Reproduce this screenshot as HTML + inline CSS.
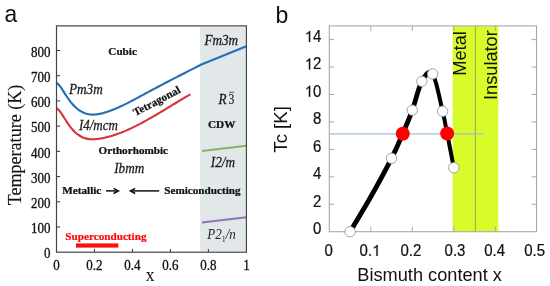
<!DOCTYPE html>
<html><head><meta charset="utf-8"><style>
html,body{margin:0;padding:0;background:#fff;}
body{width:550px;height:286px;overflow:hidden;}
svg{display:block;will-change:transform;}
</style></head><body>
<svg width="550" height="286" viewBox="0 0 550 286">
<rect x="200.2" y="27" width="45.4" height="224.2" fill="#e2e7ea"/>
<path d="M56.50,82.77 C56.84,83.06 57.84,83.78 58.51,84.48 C59.18,85.18 59.85,86.06 60.52,86.97 C61.20,87.88 61.87,88.92 62.54,89.94 C63.21,90.97 63.88,92.08 64.55,93.12 C65.22,94.17 65.89,95.23 66.56,96.23 C67.23,97.23 67.90,98.20 68.58,99.12 C69.25,100.05 69.92,100.94 70.59,101.78 C71.26,102.63 71.93,103.43 72.60,104.19 C73.27,104.95 73.94,105.67 74.61,106.35 C75.28,107.02 75.95,107.64 76.62,108.22 C77.30,108.81 77.97,109.34 78.64,109.83 C79.31,110.32 79.98,110.76 80.65,111.17 C81.32,111.58 81.99,111.94 82.66,112.27 C83.33,112.59 84.00,112.88 84.68,113.13 C85.35,113.38 86.02,113.60 86.69,113.78 C87.36,113.97 88.03,114.11 88.70,114.23 C89.37,114.35 90.04,114.44 90.71,114.50 C91.38,114.56 92.05,114.60 92.72,114.60 C93.40,114.61 94.07,114.59 94.74,114.55 C95.41,114.51 96.08,114.45 96.75,114.37 C97.42,114.28 98.09,114.18 98.76,114.06 C99.43,113.94 100.10,113.80 100.78,113.64 C101.45,113.49 102.12,113.32 102.79,113.14 C103.46,112.96 104.13,112.77 104.80,112.56 C105.47,112.36 106.14,112.15 106.81,111.93 C107.48,111.71 108.15,111.48 108.83,111.25 C109.50,111.01 110.17,110.77 110.84,110.52 C111.51,110.27 112.18,110.01 112.85,109.75 C113.52,109.48 114.19,109.21 114.86,108.93 C115.53,108.66 116.20,108.37 116.88,108.09 C117.55,107.80 118.22,107.50 118.89,107.20 C119.56,106.90 120.23,106.60 120.90,106.29 C121.57,105.98 122.24,105.66 122.91,105.34 C123.58,105.02 124.25,104.70 124.93,104.37 C125.60,104.04 126.27,103.71 126.94,103.38 C127.61,103.04 128.28,102.70 128.95,102.36 C129.62,102.02 130.29,101.67 130.96,101.32 C131.63,100.97 132.30,100.62 132.98,100.27 C133.65,99.92 134.32,99.56 134.99,99.20 C135.66,98.85 136.33,98.49 137.00,98.13 C137.67,97.77 138.34,97.40 139.01,97.04 C139.68,96.68 140.35,96.31 141.03,95.95 C141.70,95.58 142.37,95.22 143.04,94.85 C143.71,94.49 144.38,94.12 145.05,93.76 C145.72,93.39 146.39,93.03 147.06,92.67 C147.73,92.30 148.40,91.94 149.07,91.58 C149.75,91.22 150.42,90.86 151.09,90.50 C151.76,90.14 152.43,89.78 153.10,89.42 C153.77,89.06 154.44,88.70 155.11,88.35 C155.78,87.99 156.45,87.63 157.12,87.28 C157.80,86.92 158.47,86.57 159.14,86.22 C159.81,85.86 160.48,85.51 161.15,85.16 C161.82,84.81 162.49,84.46 163.16,84.11 C163.83,83.75 164.50,83.40 165.18,83.06 C165.85,82.71 166.52,82.36 167.19,82.01 C167.86,81.66 168.53,81.31 169.20,80.97 C169.87,80.62 170.54,80.27 171.21,79.93 C171.88,79.58 172.55,79.23 173.23,78.89 C173.90,78.54 174.57,78.20 175.24,77.85 C175.91,77.51 176.58,77.16 177.25,76.82 C177.92,76.48 178.59,76.13 179.26,75.79 C179.93,75.45 180.60,75.10 181.28,74.76 C181.95,74.42 182.62,74.07 183.29,73.73 C183.96,73.39 184.63,73.05 185.30,72.70 C185.97,72.36 186.64,72.02 187.31,71.68 C187.98,71.34 188.65,70.99 189.33,70.65 C190.00,70.31 190.67,69.97 191.34,69.63 C192.01,69.28 192.68,68.94 193.35,68.60 C194.02,68.26 194.69,67.92 195.36,67.57 C196.03,67.23 196.70,66.89 197.38,66.55 C198.05,66.21 198.72,65.86 199.39,65.52 C200.06,65.18 201.06,64.66 201.40,64.49 L246.4,46.2" fill="none" stroke="#2170b5" stroke-width="2.1" stroke-linejoin="round"/>
<path d="M56.50,107.94 C56.83,108.24 57.83,109.04 58.50,109.76 C59.17,110.48 59.83,111.34 60.50,112.24 C61.17,113.15 61.83,114.16 62.50,115.17 C63.17,116.18 63.83,117.26 64.50,118.31 C65.17,119.35 65.83,120.41 66.50,121.43 C67.17,122.44 67.83,123.44 68.50,124.39 C69.17,125.33 69.83,126.25 70.50,127.11 C71.17,127.98 71.83,128.79 72.50,129.55 C73.17,130.31 73.83,131.01 74.50,131.67 C75.17,132.32 75.83,132.92 76.50,133.47 C77.17,134.03 77.83,134.53 78.50,134.99 C79.17,135.46 79.83,135.87 80.50,136.25 C81.17,136.62 81.83,136.96 82.50,137.25 C83.17,137.55 83.83,137.81 84.50,138.03 C85.17,138.26 85.83,138.45 86.50,138.61 C87.17,138.77 87.83,138.89 88.50,139.00 C89.17,139.10 89.83,139.17 90.50,139.22 C91.17,139.27 91.83,139.29 92.50,139.29 C93.17,139.30 93.83,139.27 94.50,139.24 C95.17,139.20 95.83,139.15 96.50,139.08 C97.17,139.01 97.83,138.93 98.50,138.84 C99.17,138.74 99.83,138.64 100.50,138.53 C101.17,138.41 101.83,138.29 102.50,138.16 C103.17,138.04 103.83,137.90 104.50,137.75 C105.17,137.61 105.83,137.45 106.50,137.29 C107.17,137.13 107.83,136.96 108.50,136.79 C109.17,136.61 109.83,136.43 110.50,136.24 C111.17,136.05 111.83,135.85 112.50,135.64 C113.17,135.44 113.83,135.23 114.50,135.01 C115.17,134.79 115.83,134.56 116.50,134.33 C117.17,134.10 117.83,133.86 118.50,133.62 C119.17,133.37 119.83,133.12 120.50,132.86 C121.17,132.61 121.83,132.34 122.50,132.07 C123.17,131.81 123.83,131.53 124.50,131.25 C125.17,130.97 125.83,130.68 126.50,130.39 C127.17,130.10 127.83,129.81 128.50,129.51 C129.17,129.21 129.83,128.90 130.50,128.59 C131.17,128.28 131.83,127.96 132.50,127.64 C133.17,127.32 133.83,127.00 134.50,126.67 C135.17,126.34 135.83,126.00 136.50,125.67 C137.17,125.33 137.83,124.99 138.50,124.64 C139.17,124.30 139.83,123.95 140.50,123.60 C141.17,123.24 141.83,122.89 142.50,122.53 C143.17,122.17 143.83,121.80 144.50,121.44 C145.17,121.07 145.83,120.70 146.50,120.33 C147.17,119.96 147.83,119.59 148.50,119.21 C149.17,118.83 149.83,118.45 150.50,118.07 C151.17,117.69 151.83,117.30 152.50,116.92 C153.17,116.53 153.83,116.14 154.50,115.75 C155.17,115.36 155.83,114.97 156.50,114.57 C157.17,114.18 157.83,113.78 158.50,113.39 C159.17,112.99 159.83,112.59 160.50,112.19 C161.17,111.79 161.83,111.39 162.50,110.99 C163.17,110.59 163.83,110.19 164.50,109.78 C165.17,109.38 165.83,108.98 166.50,108.57 C167.17,108.17 167.83,107.77 168.50,107.36 C169.17,106.96 169.83,106.55 170.50,106.15 C171.17,105.74 171.83,105.34 172.50,104.94 C173.17,104.53 173.83,104.13 174.50,103.73 C175.17,103.32 175.83,102.92 176.50,102.52 C177.17,102.12 177.83,101.72 178.50,101.32 C179.17,100.92 179.83,100.52 180.50,100.12 C181.17,99.72 181.83,99.33 182.50,98.93 C183.17,98.54 183.83,98.15 184.50,97.76 C185.17,97.37 185.83,96.98 186.50,96.59 C187.17,96.20 187.83,95.82 188.50,95.44 C189.17,95.05 190.17,94.49 190.50,94.30" fill="none" stroke="#d8343a" stroke-width="2.1" stroke-linecap="butt"/>
<line x1="202" y1="151.0" x2="246.4" y2="145.7" stroke="#82b85c" stroke-width="2"/>
<line x1="202" y1="222.6" x2="246.4" y2="217.3" stroke="#8f74b4" stroke-width="2"/>
<rect x="56.50" y="25.9" width="189.90" height="226.30" fill="none" stroke="#444" stroke-width="1.2"/>
<line x1="56.5" y1="226.99" x2="60.1" y2="226.99" stroke="#444" stroke-width="1.1"/>
<line x1="56.5" y1="201.78" x2="60.1" y2="201.78" stroke="#444" stroke-width="1.1"/>
<line x1="56.5" y1="176.56" x2="60.1" y2="176.56" stroke="#444" stroke-width="1.1"/>
<line x1="56.5" y1="151.35" x2="60.1" y2="151.35" stroke="#444" stroke-width="1.1"/>
<line x1="56.5" y1="126.14" x2="60.1" y2="126.14" stroke="#444" stroke-width="1.1"/>
<line x1="56.5" y1="100.93" x2="60.1" y2="100.93" stroke="#444" stroke-width="1.1"/>
<line x1="56.5" y1="75.72" x2="60.1" y2="75.72" stroke="#444" stroke-width="1.1"/>
<line x1="56.5" y1="50.50" x2="60.1" y2="50.50" stroke="#444" stroke-width="1.1"/>
<text transform="translate(50.60,258.40) scale(1,1.07)" font-family='"Liberation Serif", serif' font-size="13" fill="#111" text-anchor="end" stroke="#111" stroke-width="0.3">0</text>
<text transform="translate(50.60,233.19) scale(1,1.07)" font-family='"Liberation Serif", serif' font-size="13" fill="#111" text-anchor="end" stroke="#111" stroke-width="0.3">100</text>
<text transform="translate(50.60,207.98) scale(1,1.07)" font-family='"Liberation Serif", serif' font-size="13" fill="#111" text-anchor="end" stroke="#111" stroke-width="0.3">200</text>
<text transform="translate(50.60,182.76) scale(1,1.07)" font-family='"Liberation Serif", serif' font-size="13" fill="#111" text-anchor="end" stroke="#111" stroke-width="0.3">300</text>
<text transform="translate(50.60,157.55) scale(1,1.07)" font-family='"Liberation Serif", serif' font-size="13" fill="#111" text-anchor="end" stroke="#111" stroke-width="0.3">400</text>
<text transform="translate(50.60,132.34) scale(1,1.07)" font-family='"Liberation Serif", serif' font-size="13" fill="#111" text-anchor="end" stroke="#111" stroke-width="0.3">500</text>
<text transform="translate(50.60,107.13) scale(1,1.07)" font-family='"Liberation Serif", serif' font-size="13" fill="#111" text-anchor="end" stroke="#111" stroke-width="0.3">600</text>
<text transform="translate(50.60,81.92) scale(1,1.07)" font-family='"Liberation Serif", serif' font-size="13" fill="#111" text-anchor="end" stroke="#111" stroke-width="0.3">700</text>
<text transform="translate(50.60,56.70) scale(1,1.07)" font-family='"Liberation Serif", serif' font-size="13" fill="#111" text-anchor="end" stroke="#111" stroke-width="0.3">800</text>
<text transform="translate(56.50,270.20) scale(1,1.07)" font-family='"Liberation Serif", serif' font-size="13" fill="#111" text-anchor="middle" stroke="#111" stroke-width="0.3">0</text>
<line x1="94.48" y1="252.2" x2="94.48" y2="248.9" stroke="#444" stroke-width="1.1"/>
<text transform="translate(94.48,270.20) scale(1,1.07)" font-family='"Liberation Serif", serif' font-size="13" fill="#111" text-anchor="middle" stroke="#111" stroke-width="0.3">0.2</text>
<line x1="132.46" y1="252.2" x2="132.46" y2="248.9" stroke="#444" stroke-width="1.1"/>
<text transform="translate(132.46,270.20) scale(1,1.07)" font-family='"Liberation Serif", serif' font-size="13" fill="#111" text-anchor="middle" stroke="#111" stroke-width="0.3">0.4</text>
<line x1="170.44" y1="252.2" x2="170.44" y2="248.9" stroke="#444" stroke-width="1.1"/>
<text transform="translate(170.44,270.20) scale(1,1.07)" font-family='"Liberation Serif", serif' font-size="13" fill="#111" text-anchor="middle" stroke="#111" stroke-width="0.3">0.6</text>
<line x1="208.42" y1="252.2" x2="208.42" y2="248.9" stroke="#444" stroke-width="1.1"/>
<text transform="translate(208.42,270.20) scale(1,1.07)" font-family='"Liberation Serif", serif' font-size="13" fill="#111" text-anchor="middle" stroke="#111" stroke-width="0.3">0.8</text>
<text transform="translate(246.40,270.20) scale(1,1.07)" font-family='"Liberation Serif", serif' font-size="13" fill="#111" text-anchor="middle" stroke="#111" stroke-width="0.3">1</text>
<text transform="translate(150.10,280.60) scale(1,1.02)" font-family='"Liberation Serif", serif' font-size="17.6" fill="#111" text-anchor="middle">x</text>
<text transform="translate(20.80,145.00) rotate(-90) scale(0.972,1)" font-family='"Liberation Serif", serif' font-size="18.6" fill="#111" text-anchor="middle" stroke="#111" stroke-width="0.15">Temperature (K)</text>
<text transform="translate(4.40,22.30) scale(0.95,1)" font-family='"Liberation Sans", sans-serif' font-size="24" fill="#111">a</text>
<text transform="translate(108.30,55.40) scale(1,0.97)" font-family='"Liberation Serif", serif' font-size="11.2" fill="#111" font-weight="bold" stroke="#111" stroke-width="0.25">Cubic</text>
<text transform="translate(69.00,93.50) scale(1,1.05)" font-family='"Liberation Serif", serif' font-size="13.2" fill="#1a1a1a" font-style="italic" stroke="#1a1a1a" stroke-width="0.25">Pm3m</text>
<text transform="translate(78.90,130.20) scale(0.985,1.05)" font-family='"Liberation Serif", serif' font-size="13.2" fill="#1a1a1a" font-style="italic" stroke="#1a1a1a" stroke-width="0.25">I4/mcm</text>
<text transform="translate(158.30,104.20) rotate(-28) scale(1,0.97)" font-family='"Liberation Serif", serif' font-size="11.2" fill="#111" text-anchor="middle" font-weight="bold" stroke="#111" stroke-width="0.25">Tetragonal</text>
<text transform="translate(98.50,154.30) scale(1,0.97)" font-family='"Liberation Serif", serif' font-size="11.2" fill="#111" font-weight="bold" stroke="#111" stroke-width="0.25">Orthorhombic</text>
<text transform="translate(114.20,172.80) scale(1,1.05)" font-family='"Liberation Serif", serif' font-size="13.2" fill="#1a1a1a" font-style="italic" stroke="#1a1a1a" stroke-width="0.25">Ibmm</text>
<text transform="translate(62.20,194.30) scale(1,0.97)" font-family='"Liberation Serif", serif' font-size="11.2" fill="#111" font-weight="bold" stroke="#111" stroke-width="0.25">Metallic</text>
<text transform="translate(164.20,193.80) scale(1,0.97)" font-family='"Liberation Serif", serif' font-size="11.2" fill="#111" font-weight="bold" stroke="#111" stroke-width="0.25">Semiconducting</text>
<text transform="translate(65.30,239.80) scale(1,0.97)" font-family='"Liberation Serif", serif' font-size="11.2" fill="#ff0d0d" font-weight="bold" stroke="#ff0d0d" stroke-width="0.25">Superconducting</text>
<rect x="76" y="243.4" width="42.3" height="4.2" fill="#ff0d0d"/>
<line x1="106" y1="190.9" x2="117.8" y2="190.9" stroke="#111" stroke-width="1.5"/>
<path d="M113.6,188.3 L118.4,190.9 L113.6,193.5" fill="none" stroke="#111" stroke-width="1.5" stroke-linejoin="miter"/>
<line x1="130.6" y1="190.9" x2="159.2" y2="190.9" stroke="#111" stroke-width="1.5"/>
<path d="M135.2,188.3 L130.4,190.9 L135.2,193.5" fill="none" stroke="#111" stroke-width="1.5" stroke-linejoin="miter"/>
<text transform="translate(204.40,44.60) scale(1,1.05)" font-family='"Liberation Serif", serif' font-size="13.2" fill="#1a1a1a" font-style="italic" stroke="#1a1a1a" stroke-width="0.25">Fm3m</text>
<text transform="translate(218.40,103.60) scale(1,1.05)" font-family='"Liberation Serif", serif' font-size="13.2" fill="#1a1a1a" font-style="italic" stroke="#1a1a1a" stroke-width="0.25">R</text>
<text transform="translate(228.40,103.90) scale(1,1.26)" font-family='"Liberation Serif", serif' font-size="11.5" fill="#1a1a1a" stroke="#1a1a1a" stroke-width="0.15">3</text>
<line x1="229.2" y1="92.3" x2="234" y2="92.3" stroke="#444" stroke-width="0.9"/>
<text transform="translate(208.00,127.60) scale(1,0.97)" font-family='"Liberation Serif", serif' font-size="11.2" fill="#111" font-weight="bold" stroke="#111" stroke-width="0.25">CDW</text>
<text transform="translate(210.80,166.60) scale(1,1.05)" font-family='"Liberation Serif", serif' font-size="13.2" fill="#1a1a1a" font-style="italic" stroke="#1a1a1a" stroke-width="0.25">I2/m</text>
<text transform="translate(207.30,238.50) scale(1,1.05)" font-family='"Liberation Serif", serif' font-size="13" fill="#222" font-style="italic">P2<tspan font-size="8" dy="3" font-style="normal">1</tspan><tspan dy="-3">/n</tspan></text>
<rect x="452.7" y="26.3" width="45.6" height="205" fill="#d8fb2a"/>
<line x1="475.4" y1="26" x2="475.4" y2="231.5" stroke="#a3b052" stroke-width="1.1"/>
<rect x="329.3" y="25.9" width="207.2" height="205.8" fill="none" stroke="#a8a8a8" stroke-width="1.1"/>
<line x1="329.3" y1="204.26" x2="334.3" y2="204.26" stroke="#a8a8a8" stroke-width="1"/>
<line x1="536.5" y1="204.26" x2="531.5" y2="204.26" stroke="#a8a8a8" stroke-width="1"/>
<line x1="329.3" y1="176.82" x2="334.3" y2="176.82" stroke="#a8a8a8" stroke-width="1"/>
<line x1="536.5" y1="176.82" x2="531.5" y2="176.82" stroke="#a8a8a8" stroke-width="1"/>
<line x1="329.3" y1="149.38" x2="334.3" y2="149.38" stroke="#a8a8a8" stroke-width="1"/>
<line x1="536.5" y1="149.38" x2="531.5" y2="149.38" stroke="#a8a8a8" stroke-width="1"/>
<line x1="329.3" y1="121.94" x2="334.3" y2="121.94" stroke="#a8a8a8" stroke-width="1"/>
<line x1="536.5" y1="121.94" x2="531.5" y2="121.94" stroke="#a8a8a8" stroke-width="1"/>
<line x1="329.3" y1="94.50" x2="334.3" y2="94.50" stroke="#a8a8a8" stroke-width="1"/>
<line x1="536.5" y1="94.50" x2="531.5" y2="94.50" stroke="#a8a8a8" stroke-width="1"/>
<line x1="329.3" y1="67.06" x2="334.3" y2="67.06" stroke="#a8a8a8" stroke-width="1"/>
<line x1="536.5" y1="67.06" x2="531.5" y2="67.06" stroke="#a8a8a8" stroke-width="1"/>
<line x1="329.3" y1="39.62" x2="334.3" y2="39.62" stroke="#a8a8a8" stroke-width="1"/>
<line x1="536.5" y1="39.62" x2="531.5" y2="39.62" stroke="#a8a8a8" stroke-width="1"/>
<text transform="translate(321.30,234.05) scale(1,1.07)" font-family='"Liberation Sans", sans-serif' font-size="15" fill="#111" text-anchor="end" stroke="#111" stroke-width="0.2">0</text>
<text transform="translate(321.30,206.61) scale(1,1.07)" font-family='"Liberation Sans", sans-serif' font-size="15" fill="#111" text-anchor="end" stroke="#111" stroke-width="0.2">2</text>
<text transform="translate(321.30,179.17) scale(1,1.07)" font-family='"Liberation Sans", sans-serif' font-size="15" fill="#111" text-anchor="end" stroke="#111" stroke-width="0.2">4</text>
<text transform="translate(321.30,151.73) scale(1,1.07)" font-family='"Liberation Sans", sans-serif' font-size="15" fill="#111" text-anchor="end" stroke="#111" stroke-width="0.2">6</text>
<text transform="translate(321.30,124.29) scale(1,1.07)" font-family='"Liberation Sans", sans-serif' font-size="15" fill="#111" text-anchor="end" stroke="#111" stroke-width="0.2">8</text>
<text transform="translate(304.62,96.85) scale(1,1.07)" font-family='"Liberation Sans", sans-serif' font-size="15" fill="#111" stroke="#111" stroke-width="0.2"> 0</text>
<path transform="translate(304.62,96.85) scale(0.00732,-0.00784)" d="M763,0 L583,0 L583,1147 Q480,1050 250,938 L250,1112 Q520,1230 657,1409 L763,1409 Z" fill="#111" stroke="#111" stroke-width="27.3"/>
<text transform="translate(304.62,69.41) scale(1,1.07)" font-family='"Liberation Sans", sans-serif' font-size="15" fill="#111" stroke="#111" stroke-width="0.2"> 2</text>
<path transform="translate(304.62,69.41) scale(0.00732,-0.00784)" d="M763,0 L583,0 L583,1147 Q480,1050 250,938 L250,1112 Q520,1230 657,1409 L763,1409 Z" fill="#111" stroke="#111" stroke-width="27.3"/>
<text transform="translate(304.62,41.97) scale(1,1.07)" font-family='"Liberation Sans", sans-serif' font-size="15" fill="#111" stroke="#111" stroke-width="0.2"> 4</text>
<path transform="translate(304.62,41.97) scale(0.00732,-0.00784)" d="M763,0 L583,0 L583,1147 Q480,1050 250,938 L250,1112 Q520,1230 657,1409 L763,1409 Z" fill="#111" stroke="#111" stroke-width="27.3"/>
<text transform="translate(328.70,255.95) scale(1,1.07)" font-family='"Liberation Sans", sans-serif' font-size="15" fill="#111" text-anchor="middle" stroke="#111" stroke-width="0.2">0</text>
<line x1="370.80" y1="231.7" x2="370.80" y2="226.7" stroke="#a8a8a8" stroke-width="1"/>
<line x1="370.80" y1="25.9" x2="370.80" y2="30.9" stroke="#a8a8a8" stroke-width="1"/>
<text transform="translate(359.57,255.95) scale(1,1.07)" font-family='"Liberation Sans", sans-serif' font-size="15" fill="#111" stroke="#111" stroke-width="0.2">0. </text>
<path transform="translate(372.08,255.95) scale(0.00732,-0.00784)" d="M763,0 L583,0 L583,1147 Q480,1050 250,938 L250,1112 Q520,1230 657,1409 L763,1409 Z" fill="#111" stroke="#111" stroke-width="27.3"/>
<line x1="412.30" y1="231.7" x2="412.30" y2="226.7" stroke="#a8a8a8" stroke-width="1"/>
<line x1="412.30" y1="25.9" x2="412.30" y2="30.9" stroke="#a8a8a8" stroke-width="1"/>
<text transform="translate(410.85,255.95) scale(1,1.07)" font-family='"Liberation Sans", sans-serif' font-size="15" fill="#111" text-anchor="middle" stroke="#111" stroke-width="0.2">0.2</text>
<line x1="453.80" y1="231.7" x2="453.80" y2="226.7" stroke="#a8a8a8" stroke-width="1"/>
<line x1="453.80" y1="25.9" x2="453.80" y2="30.9" stroke="#a8a8a8" stroke-width="1"/>
<text transform="translate(455.00,255.95) scale(1,1.07)" font-family='"Liberation Sans", sans-serif' font-size="15" fill="#111" text-anchor="middle" stroke="#111" stroke-width="0.2">0.3</text>
<line x1="495.30" y1="231.7" x2="495.30" y2="226.7" stroke="#a8a8a8" stroke-width="1"/>
<line x1="495.30" y1="25.9" x2="495.30" y2="30.9" stroke="#a8a8a8" stroke-width="1"/>
<text transform="translate(494.70,255.95) scale(1,1.07)" font-family='"Liberation Sans", sans-serif' font-size="15" fill="#111" text-anchor="middle" stroke="#111" stroke-width="0.2">0.4</text>
<text transform="translate(534.70,255.95) scale(1,1.07)" font-family='"Liberation Sans", sans-serif' font-size="15" fill="#111" text-anchor="middle" stroke="#111" stroke-width="0.2">0.5</text>
<text transform="translate(357.30,280.60)" font-family='"Liberation Sans", sans-serif' font-size="18.2" fill="#111">Bismuth content x</text>
<text transform="translate(287.40,129.40) rotate(-90)" font-family='"Liberation Sans", sans-serif' font-size="18.6" fill="#111" text-anchor="middle">Tc [K]</text>
<text transform="translate(275.60,22.50) scale(0.96,1.03)" font-family='"Liberation Sans", sans-serif' font-size="24" fill="#111">b</text>
<text transform="translate(466.00,75.80) rotate(-90)" font-family='"Liberation Sans", sans-serif' font-size="18.3" fill="#111">Metal</text>
<text transform="translate(496.60,100.00) rotate(-90)" font-family='"Liberation Sans", sans-serif' font-size="18.2" fill="#111">Insulator</text>
<line x1="329.3" y1="133.9" x2="483.6" y2="133.9" stroke="#9fbce0" stroke-width="1.4"/>
<path d="M350.05,231.70 C353.51,225.87 363.88,208.95 370.80,196.71 C377.72,184.48 386.22,168.79 391.55,158.30 C396.88,147.80 399.30,141.77 402.75,133.74 C406.21,125.71 409.12,118.88 412.30,110.14 C415.48,101.41 418.46,87.37 421.85,81.33 C425.23,75.29 429.18,68.94 432.63,73.92" fill="none" stroke="#000" stroke-width="4.8" stroke-linejoin="round" stroke-linecap="round"/>
<path d="M432.63,73.92 C436.09,78.90 440.17,101.31 442.60,111.24 C445.02,121.16 445.29,124.04 447.16,133.46 C449.03,142.89 452.69,162.05 453.80,167.76" fill="none" stroke="#000" stroke-width="4.0" stroke-linejoin="round" stroke-linecap="round"/>
<circle cx="350.05" cy="231.70" r="5.2" fill="#fff" stroke="#9a9a9a" stroke-width="0.9"/>
<circle cx="391.55" cy="158.30" r="5.2" fill="#fff" stroke="#9a9a9a" stroke-width="0.9"/>
<circle cx="402.75" cy="133.74" r="7" fill="#ff0000"/>
<circle cx="412.30" cy="110.14" r="5.2" fill="#fff" stroke="#9a9a9a" stroke-width="0.9"/>
<circle cx="421.85" cy="81.33" r="5.2" fill="#fff" stroke="#9a9a9a" stroke-width="0.9"/>
<circle cx="432.63" cy="73.92" r="5.2" fill="#fff" stroke="#9a9a9a" stroke-width="0.9"/>
<circle cx="442.60" cy="111.24" r="5.2" fill="#fff" stroke="#9a9a9a" stroke-width="0.9"/>
<circle cx="447.16" cy="133.46" r="7" fill="#ff0000"/>
<circle cx="453.80" cy="167.76" r="5.2" fill="#fff" stroke="#9a9a9a" stroke-width="0.9"/>
</svg>
</body></html>
